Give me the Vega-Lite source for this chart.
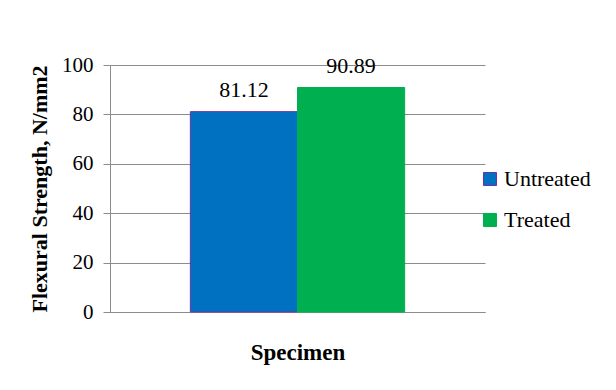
{
  "$schema": "https://vega.github.io/schema/vega-lite/v6.json",
  "autosize": "none",
  "width": 375,
  "height": 247,
  "padding": {"left": 110, "top": 65, "right": 131, "bottom": 78},
  "background": "white",
  "config": {
    "view": {"stroke": null},
    "font": "Liberation Serif"
  },
  "data": {
    "values": [
      {"Specimen": "Untreated", "Strength": 81.12},
      {"Specimen": "Treated", "Strength": 90.89}
    ]
  },
  "layer": [
    {
      "mark": {"type": "bar", "strokeWidth": 1},
      "encoding": {
        "x": {
          "field": "Specimen",
          "type": "nominal",
          "sort": ["Untreated", "Treated"],
          "scale": {"paddingInner": 0, "paddingOuter": 0.75},
          "axis": {
            "title": "Specimen",
            "labels": false,
            "ticks": false,
            "domainColor": "#8c8c8c",
            "titleFont": "Liberation Serif",
            "titleFontSize": 23,
            "titleFontWeight": "bold",
            "titleColor": "black",
            "titlePadding": 29
          }
        },
        "y": {
          "field": "Strength",
          "type": "quantitative",
          "scale": {"domain": [0, 100]},
          "axis": {
            "title": "Flexural Strength, N/mm2",
            "values": [0, 20, 40, 60, 80, 100],
            "gridColor": "#8c8c8c",
            "domainColor": "#8c8c8c",
            "tickColor": "#8c8c8c",
            "tickSize": 7,
            "labelPadding": 10,
            "labelFont": "Liberation Serif",
            "labelFontSize": 21,
            "labelColor": "black",
            "titleFont": "Liberation Serif",
            "titleFontSize": 22,
            "titleFontWeight": "bold",
            "titleColor": "black",
            "titlePadding": 10
          }
        },
        "fill": {
          "field": "Specimen",
          "type": "nominal",
          "sort": ["Untreated", "Treated"],
          "scale": {"domain": ["Untreated", "Treated"], "range": ["#0070C0", "#00B050"]},
          "legend": {
            "title": null,
            "orient": "none",
            "legendX": 369,
            "legendY": 103,
            "symbolType": "square",
            "symbolSize": 170,
            "symbolStrokeWidth": 1,
            "labelFont": "Liberation Serif",
            "labelFontSize": 22,
            "labelColor": "black",
            "labelOffset": 3,
            "rowPadding": 19
          }
        },
        "stroke": {
          "field": "Specimen",
          "type": "nominal",
          "sort": ["Untreated", "Treated"],
          "scale": {"domain": ["Untreated", "Treated"], "range": ["#7030A0", "#00B050"]},
          "legend": {
            "title": null,
            "orient": "none",
            "legendX": 369,
            "legendY": 103,
            "symbolType": "square",
            "symbolSize": 170,
            "symbolStrokeWidth": 1,
            "labelFont": "Liberation Serif",
            "labelFontSize": 22,
            "labelColor": "black",
            "labelOffset": 3,
            "rowPadding": 19
          }
        }
      }
    },
    {
      "mark": {"type": "text", "baseline": "alphabetic", "dy": -15, "font": "Liberation Serif", "fontSize": 22, "color": "black"},
      "encoding": {
        "x": {"field": "Specimen", "type": "nominal", "sort": ["Untreated", "Treated"]},
        "y": {"field": "Strength", "type": "quantitative"},
        "text": {"field": "Strength", "type": "quantitative", "format": ".2f"}
      }
    }
  ]
}
